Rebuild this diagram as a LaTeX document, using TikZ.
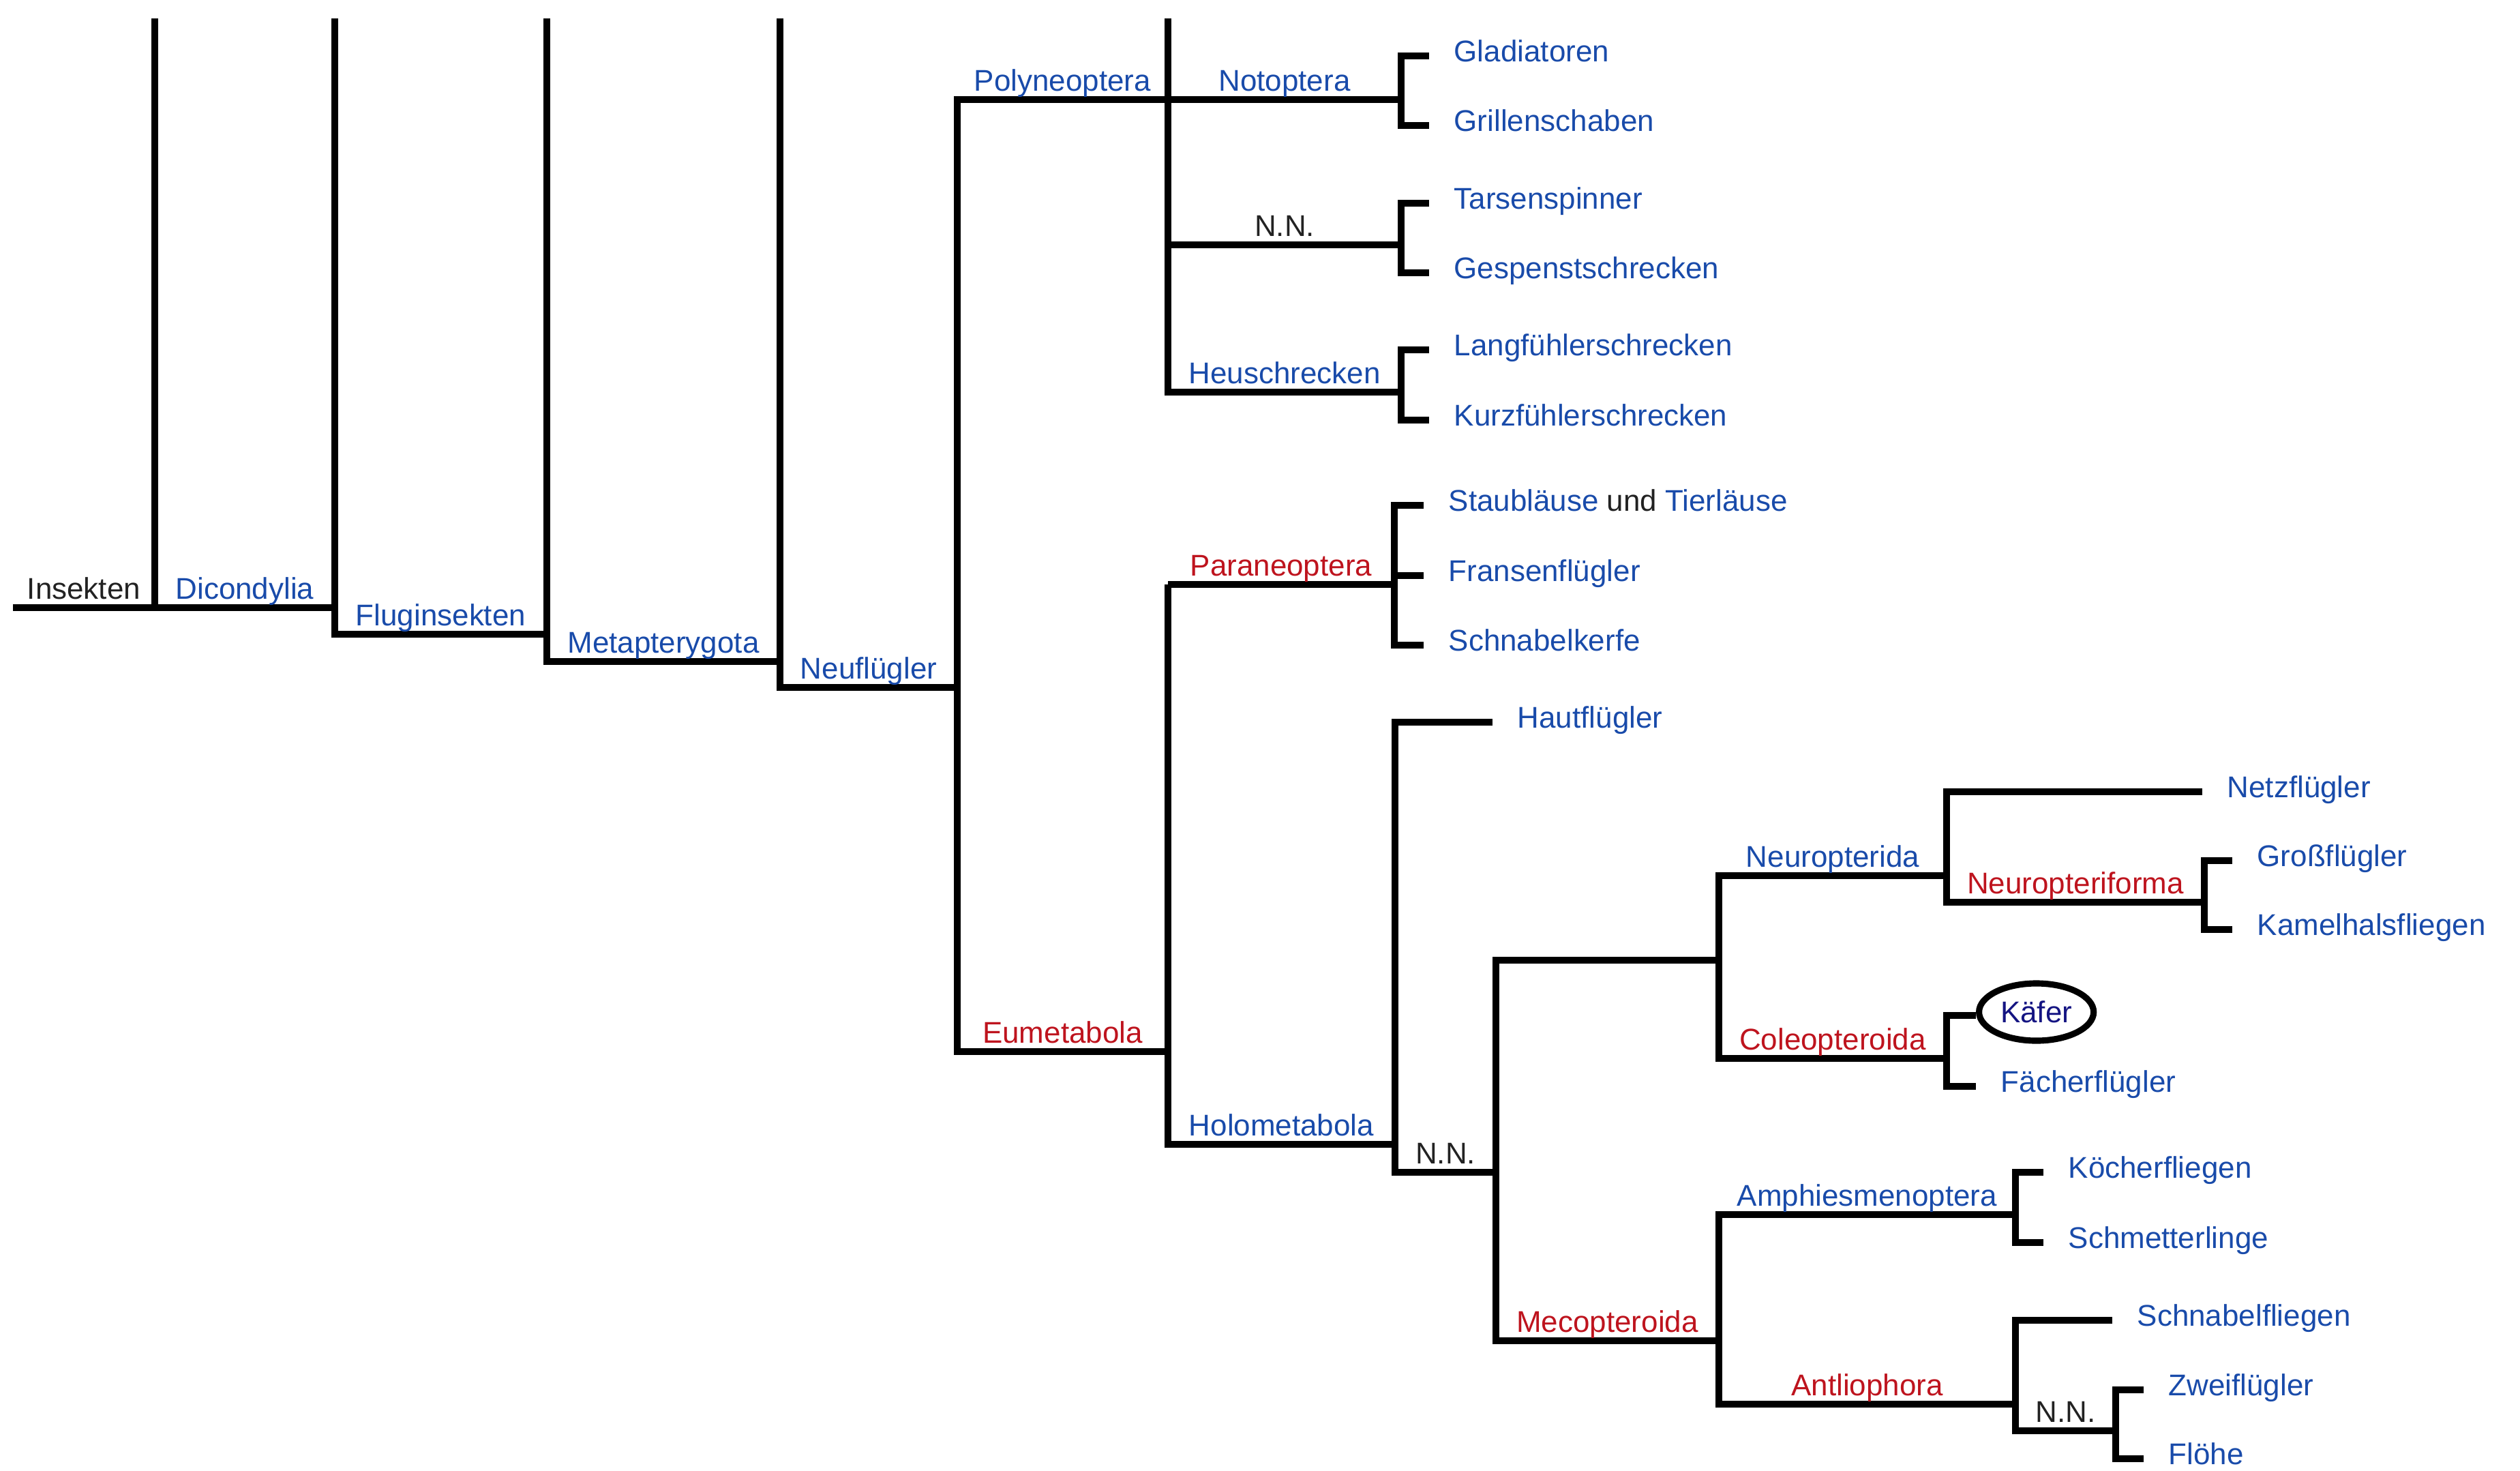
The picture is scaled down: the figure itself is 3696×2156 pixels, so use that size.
\documentclass[tikz,border=0pt]{standalone}
\usepackage{fontspec}
\setmainfont{Liberation Sans}
\usetikzlibrary{calc,shapes.geometric}
\definecolor{taxblue}{RGB}{25,75,170}
\definecolor{taxred}{RGB}{190,20,30}
\definecolor{kaefer}{RGB}{20,20,130}
\definecolor{taxblack}{RGB}{34,34,34}
\newcommand{\tx}{\fontsize{12.5pt}{15pt}\selectfont}
\tikzset{branch/.style={draw,line width=2.6pt,line join=miter},
  lab/.style={anchor=base,inner sep=0pt,yshift=0.13cm,font=\tx},
  lb/.style={lab,text=taxblue},lr/.style={lab,text=taxred},lk/.style={lab,text=taxblack},
  leaf/.style={anchor=base west,inner sep=0pt,xshift=0.36cm,yshift=-0.08cm,font=\tx,text=taxblue}}

\begin{document}
\begin{tikzpicture}[x=0.01cm,y=-0.01cm]
          \useasboundingbox (0,0) rectangle (3696,2156);

          % stem lines, running up to the top edge
          \coordinate (ins) at (19,891);
          \foreach \n/\x/\y in {dic/227/891,flu/491/930,met/802/970,neu/1144/1008}
          {\coordinate (\n) at (\x,\y); \coordinate (\n-top) at (\x,27);}
          \coordinate (poly) at (1404,146);
          \coordinate (eume) at (1404,1542);
          \coordinate (pn) at (1713,146);
          \coordinate (pn-top) at (1713,27);
          \coordinate (heu) at (2055,575);
          \coordinate (nn1) at (2055,359);
          \coordinate (noto) at (2055,146);

          \draw[branch] (ins) -- node[lk] (l-ins) {Insekten} (dic);
          \draw[branch] (dic-top) -- (dic) -- node[lb] (l-dic) {Dicondylia} (dic -| flu);
          \draw[branch] (flu-top) -- (flu) -- node[lb] (l-flu) {Fluginsekten} (flu -| met);
          \draw[branch] (met-top) -- (met) -- node[lb] (l-met) {Metapterygota} (met -| neu);
          \draw[branch] (neu-top) -- (neu) -- node[lb] (l-neu) {Neuflügler} (neu -| poly);
          \draw[branch] (pn) -- node[lb] (l-poly) {Polyneoptera} (poly) -- (eume) -- node[lr] (l-eume) {Eumetabola} (eume -| pn);

          % Polyneoptera
          \draw[branch] (pn-top) -- (pn |- heu) -- node[lb] (l-heu) {Heuschrecken} (heu);
          \draw[branch] (pn) -- node[lb] (l-noto) {Notoptera} (noto);
          \draw[branch] (pn |- nn1) -- node[lk] (l-nn1) {N.N.} (nn1);

          % two-leaf brackets
          \foreach \n/\x/\ya/\yb/\ta/\tb in {noto/2055/82/184/Gladiatoren/Grillenschaben,
              nn1/2055/298/400/Tarsenspinner/Gespenstschrecken,
              heu/2055/513/616/Langfühlerschrecken/Kurzfühlerschrecken,
              npf/3233/1262/1363/Großflügler/Kamelhalsfliegen,
              amph/2956/1719/1822/Köcherfliegen/Schmetterlinge,
              nn3/3103/2038/2139/Zweiflügler/Flöhe}
          {\coordinate (\n-a) at (\x+41,\ya); \coordinate (\n-b) at (\x+41,\yb);
            \draw[branch] (\n-a) -- ++(-41,0) |- (\n-b);
            \node[leaf] (\n-ta) at (\n-a) {\ta};
            \node[leaf] (\n-tb) at (\n-b) {\tb};}

          % Paraneoptera
          \coordinate (para) at (1713,857);
          \coordinate (holo) at (1713,1678);
          \coordinate (pa) at (2045,857);
          \coordinate (pa-a) at (2088,741);
          \coordinate (pa-m) at (2088,844);
          \coordinate (pa-b) at (2088,946);
          \draw[branch] (para) -- node[lr] (l-para) {Paraneoptera} (pa);
          \draw[branch] (pa-a) -- ++(-43,0) |- (pa-b);
          \draw[branch] (pa |- pa-m) -- (pa-m);
          \node[leaf] (staub) at (pa-a) {Staubläuse \textcolor{taxblack}{und} Tierläuse};
          \node[leaf] (frans) at (pa-m) {Fransenflügler};
          \node[leaf] (schk) at (pa-b) {Schnabelkerfe};

          % Holometabola
          \coordinate (haut) at (2046,1059);
          \coordinate (haut-e) at (2189,1059);
          \coordinate (nn2) at (2046,1719);
          \coordinate (nn2-e) at (2194,1719);
          \draw[branch] (para) -- (holo) -- node[lb] (l-holo) {Holometabola} (holo -| nn2);
          \draw[branch] (haut-e) -- (haut) -- (nn2) -- node[lk] (l-nn2) {N.N.} (nn2-e);
          \node[leaf] (hautfl) at (haut-e) {Hautflügler};

          \coordinate (nnx) at (2194,1408);
          \coordinate (meco) at (2194,1966);
          \coordinate (ncr) at (2521,1408);
          \draw[branch] (ncr) -- (nnx) -- (meco) -- node[lr] (l-meco) {Mecopteroida} (meco -| ncr);

          % Neuropterida + Coleopteroida
          \coordinate (npt) at (2521,1284);
          \coordinate (cole) at (2521,1552);
          \coordinate (npt-e) at (2855,1284);
          \coordinate (cole-e) at (2855,1552);
          \coordinate (netz) at (3230,1161);
          \coordinate (npf) at (3233,1323);
          \draw[branch] (npt-e) -- node[lb] (l-npt) {Neuropterida} (npt) -- (cole) -- node[lr] (l-cole) {Coleopteroida} (cole-e);
          \draw[branch] (netz) -- (netz -| npt-e) -- (npt-e |- npf) -- node[lr] (l-npf) {Neuropteriforma} (npf);
          \node[leaf] (netzfl) at (netz) {Netzflügler};

          \coordinate (kf-a) at (2898,1489);
          \coordinate (kf-b) at (2898,1593);
          \draw[branch] (kf-a) -- ++(-43,0) |- (kf-b);
          \node[draw,ellipse,line width=2.6pt,minimum width=1.68cm,minimum height=0.84cm,inner sep=0pt,
            anchor=west,yshift=0.05cm,font=\tx,text=kaefer] (kaefer) at (kf-a) {Käfer};
          \node[leaf] (faecher) at (kf-b) {Fächerflügler};

          % Amphiesmenoptera + Antliophora
          \coordinate (amph) at (2956,1781);
          \coordinate (anti) at (2956,2059);
          \coordinate (schn) at (3098,1936);
          \coordinate (nn3) at (3103,2098);
          \draw[branch] (amph) -- node[lb] (l-amph) {Amphiesmenoptera} (amph -| ncr) -- (anti -| ncr) -- node[lr] (l-anti) {Antliophora} (anti);
          \draw[branch] (schn) -- (schn -| anti) -- (anti |- nn3) -- node[lk] (l-nn3) {N.N.} (nn3);
          \node[leaf] (schnfl) at (schn) {Schnabelfliegen};

        \end{tikzpicture}
\end{document}
